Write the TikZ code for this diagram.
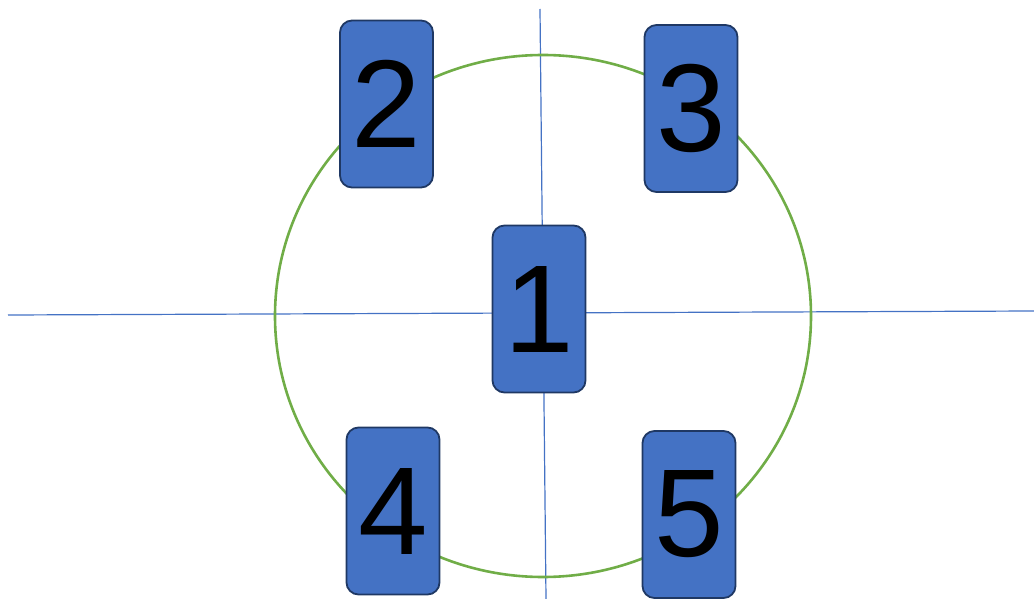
\documentclass[tikz,border=0pt]{standalone}
\usepackage{fontspec}
\setmainfont{Liberation Sans}
\definecolor{boxfill}{HTML}{4472C4}
\definecolor{boxline}{HTML}{1F3864}
\definecolor{axis}{HTML}{4472C4}
\definecolor{ring}{HTML}{70AD47}
\begin{document}
\begin{tikzpicture}[x=1pt,y=-1pt,
  card/.style={draw=boxline,line width=1.8pt,fill=boxfill,rounded corners=12pt,
    minimum width=93pt,minimum height=167pt,inner sep=0pt,
    font=\fontsize{125}{125}\selectfont,text=black},
  axisline/.style={draw=axis,line width=1.2pt},
  ringline/.style={draw=ring,line width=2.6pt}]
\useasboundingbox (0,0) rectangle (1034,599);
\coordinate (hl) at (8,315);
\coordinate (hr) at (1034,311);
\coordinate (vt) at (540,9);
\coordinate (vb) at (546,599);
\draw[axisline] (hl) -- (hr);
\draw[axisline] (vt) -- (vb);
\draw[ringline] (543,316) ellipse [x radius=268pt, y radius=261pt];
\node[card] (n2) at (386.5,104) {2};
\node[card] (n3) at (691,108.5) {3};
\node[card] (n1) at (539,309) {1};
\node[card] (n4) at (393,511) {4};
\node[card] (n5) at (689,514.5) {5};
\end{tikzpicture}
\end{document}
